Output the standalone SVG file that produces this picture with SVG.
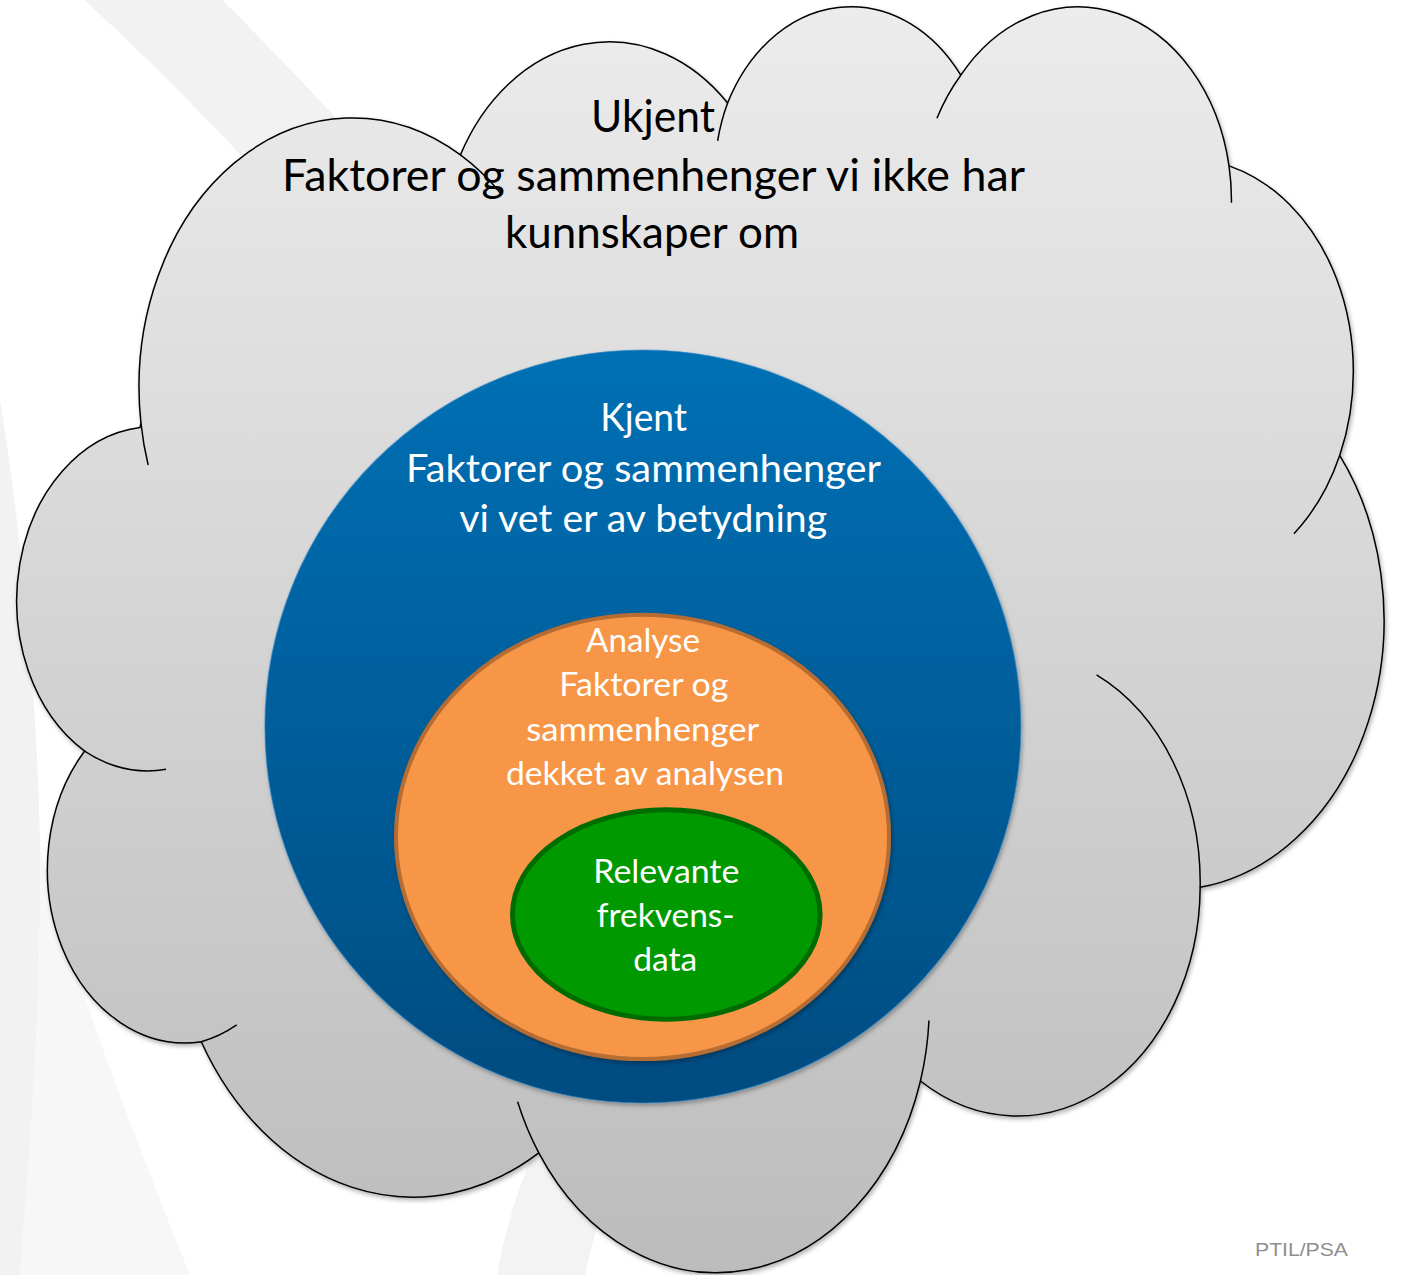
<svg xmlns="http://www.w3.org/2000/svg" width="1401" height="1275" viewBox="0 0 1401 1275">
  <defs>
    <linearGradient id="cloudGrad" x1="0" y1="0" x2="0" y2="1">
      <stop offset="0" stop-color="#ececec"/>
      <stop offset="1" stop-color="#bcbcbc"/>
    </linearGradient>
    <linearGradient id="blueGrad" x1="0" y1="0" x2="0" y2="1">
      <stop offset="0" stop-color="#0070b5"/>
      <stop offset="1" stop-color="#004c80"/>
    </linearGradient>
    <filter id="shadow" x="-10%" y="-10%" width="120%" height="120%">
      <feDropShadow dx="1.5" dy="2.5" stdDeviation="2.2" flood-color="#000" flood-opacity="0.3"/>
    </filter>
    <style>
      .cloudline { fill: none; stroke: #000; stroke-width: 1.5; vector-effect: non-scaling-stroke; }
      .big { font-family: Lato, "Liberation Sans", sans-serif; font-size: 43.5px; fill: #000; text-anchor: middle; }
      .mid { font-family: Lato, "Liberation Sans", sans-serif; font-size: 38.5px; fill: #fff; text-anchor: middle; }
      .small { font-family: Lato, "Liberation Sans", sans-serif; font-size: 33.5px; fill: #fff; text-anchor: middle; }
      .credit { font-family: "Liberation Sans", Arial, sans-serif; font-size: 19px; fill: #8e8e8e; }
    </style>
  </defs>

  <g id="background">
    <rect x="0" y="0" width="1401" height="1275" fill="#ffffff"/>
    <path d="M 100,-50 Q 200,40 310,160" fill="none" stroke="#f2f2f2" stroke-width="95"/>
    <path d="M 0,400 C 20,520 38,700 40,850 C 42,1000 30,1150 20,1275 L 0,1275 Z" fill="#f2f2f2"/>
    <path d="M 40,850 C 80,1000 140,1150 190,1275 L 20,1275 C 30,1150 42,1000 40,850 Z" fill="#f7f7f7"/>
    <path d="M 497,1275 C 505,1230 515,1200 530,1160 L 620,1160 C 605,1200 592,1240 585,1275 Z" fill="#f3f3f3"/>
  </g>

  <g id="cloud-unknown">
    <g filter="url(#shadow)">
      <path transform="translate(17.7 2.5) scale(0.031612 0.029295)" fill="url(#cloudGrad)" class="cloudline" style="fill:url(#cloudGrad)"
        d="M 3900 14370 A 6753 9190 0 0 1 14005.2 5202.3 A 5333 7267 0 0 1 22456.7 3433.5 A 4365 5945 0 0 1 29832.9 2481.5 A 4857 6595 0 0 1 38318.6 5575.9 A 5333 7273 0 0 1 41819 15460 A 6775 9220 0 0 1 37405.9 30205 A 5785 7867 0 0 1 28557.4 36815.1 A 6752 9215 0 0 1 16483.9 39270.7 A 7720 10543 0 0 1 5807.7 35475.1 A 4360 5918 0 0 1 2117.7 25551.4 A 4345 5945 0 0 1 3867.4 14507.5 Z"/>
      <path transform="translate(17.7 2.5) scale(0.031612 0.029295)" class="cloudline"
        d="M 4693 26177 A 4345 5945 0 0 1 2117.7 25551.4 M 6928 34899 A 4360 5918 0 0 1 5807.7 35475.1 M 16483.9 39270.7 A 6752 9215 0 0 1 15814.1 37525.9 M 28827 34751 A 6752 9215 0 0 1 28557.4 36815.1 M 34129 22954 A 5785 7867 0 0 1 37405.9 30205 M 41819 15460 A 5333 7273 0 0 1 40370.8 18135.9 M 38318.6 5575.9 A 4857 6595 0 0 1 38395 6839.5 M 29078 3952 A 4857 6595 0 0 1 29832.9 2481.5 M 22141 4720 A 4365 5945 0 0 1 22456.7 3433.5 M 14005.2 5202.3 A 6753 9190 0 0 1 15306 6552 M 4127 15789 A 6753 9190 0 0 1 3900 14370"/>
    </g>
    <text class="big" x="653" y="132" textLength="124" lengthAdjust="spacingAndGlyphs">Ukjent</text>
    <text class="big" x="653.5" y="190.5" textLength="743" lengthAdjust="spacingAndGlyphs">Faktorer og sammenhenger vi ikke har</text>
    <text class="big" x="652" y="247.5" textLength="294" lengthAdjust="spacingAndGlyphs">kunnskaper om</text>
  </g>

  <g id="circle-known">
    <ellipse cx="642.9" cy="726.5" rx="378" ry="376.5" fill="url(#blueGrad)" stroke="#2f86c6" stroke-opacity="0.6" stroke-width="1.2" filter="url(#shadow)"/>
    <text class="mid" x="643.7" y="430.5" textLength="87" lengthAdjust="spacingAndGlyphs">Kjent</text>
    <text class="mid" x="643.5" y="481.6" textLength="475" lengthAdjust="spacingAndGlyphs">Faktorer og sammenhenger</text>
    <text class="mid" x="643.2" y="531.8" textLength="368" lengthAdjust="spacingAndGlyphs">vi vet er av betydning</text>
  </g>

  <g id="ellipse-analysis">
    <ellipse cx="642.5" cy="836.9" rx="246.5" ry="222.2" fill="#f79646" stroke="#b66c30" stroke-width="4" filter="url(#shadow)"/>
    <text class="small" x="643" y="651.7" textLength="114" lengthAdjust="spacingAndGlyphs">Analyse</text>
    <text class="small" x="643.8" y="696" textLength="169" lengthAdjust="spacingAndGlyphs">Faktorer og</text>
    <text class="small" x="642.7" y="740.5" textLength="233" lengthAdjust="spacingAndGlyphs">sammenhenger</text>
    <text class="small" x="645" y="785" textLength="278" lengthAdjust="spacingAndGlyphs">dekket av analysen</text>
  </g>

  <g id="ellipse-data">
    <ellipse cx="666.3" cy="914.5" rx="153.8" ry="104.7" fill="#009900" stroke="#006b00" stroke-width="5"/>
    <text class="small" x="666.3" y="882.7" textLength="146" lengthAdjust="spacingAndGlyphs">Relevante</text>
    <text class="small" x="665.8" y="926.7" textLength="138" lengthAdjust="spacingAndGlyphs">frekvens-</text>
    <text class="small" x="665.3" y="970.7" textLength="64" lengthAdjust="spacingAndGlyphs">data</text>
  </g>

  <g id="connectors"/>

  <g id="credit">
    <text class="credit" x="1255" y="1256" textLength="93" lengthAdjust="spacingAndGlyphs">PTIL/PSA</text>
  </g>
</svg>
